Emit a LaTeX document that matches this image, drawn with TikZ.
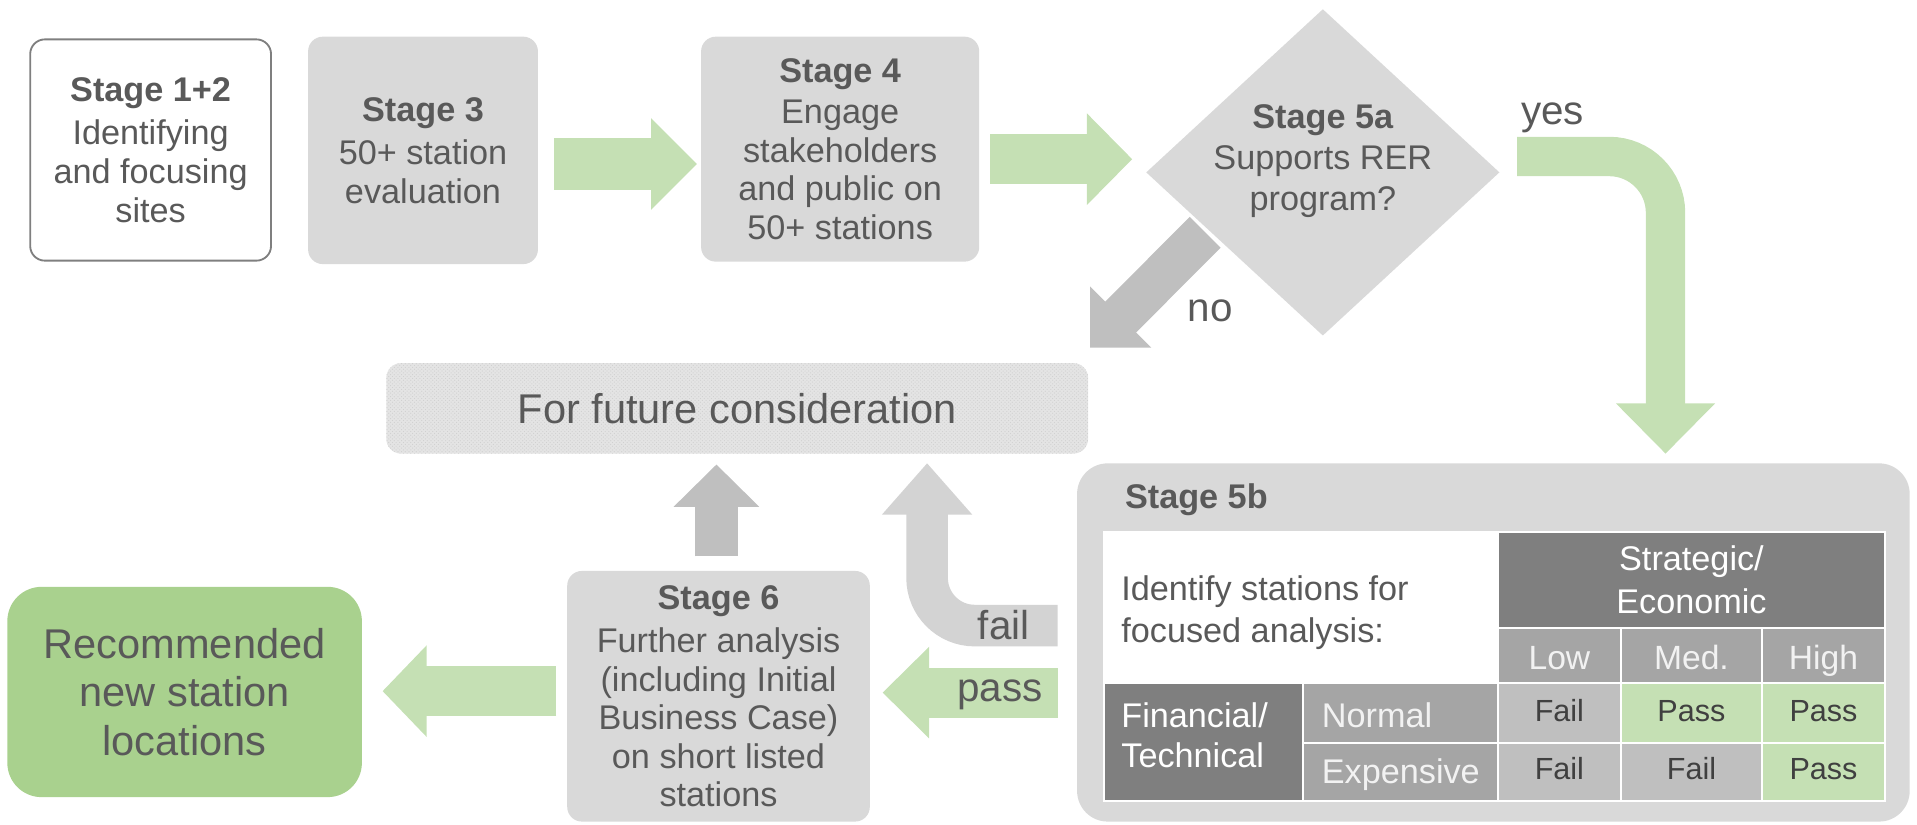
\documentclass[tikz,border=0pt]{standalone}
\usepackage{fontspec}
\setmainfont{Liberation Sans}
\usetikzlibrary{calc,patterns,shapes.geometric}

\definecolor{txt}{HTML}{595959}
\definecolor{boxgray}{HTML}{D9D9D9}
\definecolor{agreen}{HTML}{C5E0B4}
\definecolor{rgreen}{HTML}{A9D18E}
\definecolor{agray}{HTML}{BFBFBF}
\definecolor{dgray}{HTML}{7F7F7F}
\definecolor{mgray}{HTML}{A5A5A5}
\definecolor{futgray}{HTML}{E4E4E4}
\definecolor{patgray}{HTML}{D0D0D0}
\definecolor{failgray}{HTML}{D3D3D3}
\definecolor{celltxt}{HTML}{404040}
\definecolor{lighttxt}{HTML}{F2F2F2}

\newcommand\fsz[2]{\fontsize{#1}{#2}\selectfont}

% straight block arrow: colour, tail, tip, shaft width, head half width, head length
\newcommand\blockarrow[6]{%
  \coordinate (bh) at ($(#3)!#6!(#2)$);
  \draw[#1, line width=#4] (#2) -- ($(bh)!1.5pt!(#3)$);
  \fill[#1] (#3) -- ($(bh)!#5!90:(#3)$) -- ($(bh)!#5!-90:(#3)$) -- cycle;}

\begin{document}
\begin{tikzpicture}[x=1pt,y=-1pt,
  stagebox/.style={rounded corners=12pt, fill=boxgray, inner sep=0pt, text=txt,
                   align=center, font=\fsz{28}{31.5}},
  lbl/.style={anchor=base, inner sep=0pt, text=txt, font=\fsz{33}{38}},
  cell/.style={draw=white, line width=1.6pt, inner sep=0pt, font=\fsz{25}{30},
               text height=18pt, text depth=5pt},
  headcell/.style={cell, fill=mgray, text=lighttxt, font=\fsz{27.5}{32},
               text height=25pt, text depth=2pt, minimum height=45pt},
  ltxt/.style={inner sep=0pt, align=left}]
\useasboundingbox (0,0) rectangle (1568,674);

% ---- top row of stages
\node[stagebox, fill=white, draw=dgray, line width=1.5pt,
      minimum width=197pt, minimum height=181pt] (s12) at (123.2,122.7)
  {\textbf{Stage 1+2}\\[4pt]Identifying\\and focusing\\sites};
\node[stagebox, minimum width=188pt, minimum height=186pt] (s3) at (346,123)
  {\textbf{Stage 3}\\[4pt]50+ station\\evaluation};
\node[stagebox, minimum width=227.5pt, minimum height=184pt] (s4) at (687.2,122)
  {\textbf{Stage 4}\\[2pt]Engage\\stakeholders\\and public on\\50+ stations};

% ---- decision diamond
\node[diamond, fill=boxgray, inner sep=0pt, minimum width=289pt, minimum height=267pt]
  (d5a) at (1082,141) {};
\node[inner sep=0pt, text=txt, align=center, font=\fsz{28}{33.5}] (s5a) at (1082,132)
  {\textbf{Stage 5a}\\Supports RER\\program?};

% ---- middle and lower boxes
\node[rounded corners=12pt, fill=futgray, inner sep=0pt,
      postaction={pattern=crosshatch dots, pattern color=patgray},
      minimum width=574pt, minimum height=74pt] (futbox) at (603,334) {};
\node[inner sep=0pt, text=txt, font=\fsz{34}{40}] (fut) at (603,334) {For future consideration};

\node[stagebox, minimum width=247.5pt, minimum height=205pt] (s6) at (587.7,569.5)
  {\textbf{Stage 6}\\[4pt]Further analysis\\(including Initial\\Business Case)\\on short listed\\stations};

\node[rounded corners=28pt, fill=rgreen, inner sep=0pt, text=txt, align=center,
      font=\fsz{34}{39.5}, minimum width=290pt, minimum height=172pt] (rec) at (151,566)
  {Recommended\\new station\\locations};

% ---- stage 5b panel with its table
\node[rounded corners=25pt, fill=boxgray, inner sep=0pt,
      minimum width=681pt, minimum height=293pt] (s5b) at (1221.5,525.5) {};
\node[anchor=base west, inner sep=0pt, text=txt, font=\bfseries\fsz{28}{32}] (s5blab)
  at (920,416) {Stage 5b};

% columns 903 1066 1225 1326 1441 1542 ; rows 435 514 559 607.5 655
\node[cell, fill=white, minimum width=322pt, minimum height=124pt] (intro) at (1064,497) {};
\node[ltxt, anchor=west, text=txt, font=\fsz{28}{34}] (introtxt) at (917,501)
  {Identify stations for\\focused analysis:};
\node[cell, fill=dgray, text=white, align=center, font=\fsz{28}{35},
      text height=, text depth=, minimum width=317pt, minimum height=79pt] (strat)
  at (1383.5,474.5) {Strategic/\\Economic};
\node[headcell, minimum width=101pt] (low) at (1275.5,536.5) {Low};
\node[headcell, minimum width=115pt] (med) at (1383.5,536.5) {Med.};
\node[headcell, minimum width=101pt] (high) at (1491.5,536.5) {High};
\node[cell, fill=dgray, minimum width=163pt, minimum height=96pt] (fin) at (984.5,607) {};
\node[ltxt, anchor=west, text=white, font=\fsz{28}{33}] (fintxt) at (917,601.5)
  {Financial/\\Technical};
\node[cell, fill=mgray, minimum width=159pt, minimum height=48.5pt] (norm) at (1145.5,583.25) {};
\node[anchor=base west, inner sep=0pt, text=lighttxt, font=\fsz{28}{32}] (normtxt)
  at (1081,595) {Normal};
\node[cell, fill=mgray, minimum width=159pt, minimum height=47.5pt] (expn) at (1145.5,631.25) {};
\node[anchor=base west, inner sep=0pt, text=lighttxt, font=\fsz{28}{32}] (expntxt)
  at (1081,641) {Expensive};
\node[cell, fill=agray, text=celltxt, minimum width=101pt, minimum height=48.5pt] (nlow)
  at (1275.5,583.25) {Fail};
\node[cell, fill=agreen, text=celltxt, minimum width=115pt, minimum height=48.5pt] (nmed)
  at (1383.5,583.25) {Pass};
\node[cell, fill=agreen, text=celltxt, minimum width=101pt, minimum height=48.5pt] (nhigh)
  at (1491.5,583.25) {Pass};
\node[cell, fill=agray, text=celltxt, minimum width=101pt, minimum height=47.5pt] (elow)
  at (1275.5,631.25) {Fail};
\node[cell, fill=agray, text=celltxt, minimum width=115pt, minimum height=47.5pt] (emed)
  at (1383.5,631.25) {Fail};
\node[cell, fill=agreen, text=celltxt, minimum width=101pt, minimum height=47.5pt] (ehigh)
  at (1491.5,631.25) {Pass};

% ---- arrow end points
\coordinate (a1from) at (453,134.2);   \coordinate (a1to) at (570,134.2);
\coordinate (a2from) at (810,130.2);   \coordinate (a2to) at (926,130.2);
\coordinate (nofrom) at (985.8,190);   \coordinate (noto) at (891.6,284.4);
\coordinate (yesfrom) at (1241,128);   \coordinate (yesto) at (1362.3,371);
\coordinate (upfrom) at (586,455);     \coordinate (upto) at (586,380);
\coordinate (failfrom) at (865,511.7); \coordinate (failto) at (758.3,379);
\coordinate (passfrom) at (865,566.5); \coordinate (passto) at (722,566.5);
\coordinate (recfrom) at (455,565.3);  \coordinate (recto) at (313,565.3);

% ---- straight arrows
\blockarrow{agreen}{a1from}{a1to}{42.5pt}{37.5pt}{37.5pt}
\blockarrow{agreen}{a2from}{a2to}{41pt}{37.5pt}{37pt}
\blockarrow{agray}{nofrom}{noto}{35.7pt}{35.4pt}{35.4pt}
\blockarrow{agray}{upfrom}{upto}{35pt}{35pt}{34.5pt}
\blockarrow{agreen}{passfrom}{passto}{41pt}{37.5pt}{38pt}
\blockarrow{agreen}{recfrom}{recto}{41.5pt}{37.5pt}{36pt}

% ---- bent arrows
\draw[agreen, line width=32.2pt, rounded corners=46pt] (yesfrom) -| ($(yesto)+(0,-39.5)$);
\fill[agreen] (yesto) -- ($(yesto)+(-40.5,-41)$) -- ($(yesto)+(40.5,-41)$) -- cycle;
\draw[failgray, line width=34pt, rounded corners=39pt] (failfrom) -| ($(failto)+(0,40.5)$);
\fill[failgray] (failto) -- ($(failto)+(-37,42)$) -- ($(failto)+(37,42)$) -- cycle;

% ---- branch labels
\node[lbl] (yes) at (1270,102) {yes};
\node[lbl] (no) at (990,263) {no};
\node[lbl] (fail) at (821,522.7) {fail};
\node[lbl] (pass) at (818,574) {pass};
\end{tikzpicture}
\end{document}
